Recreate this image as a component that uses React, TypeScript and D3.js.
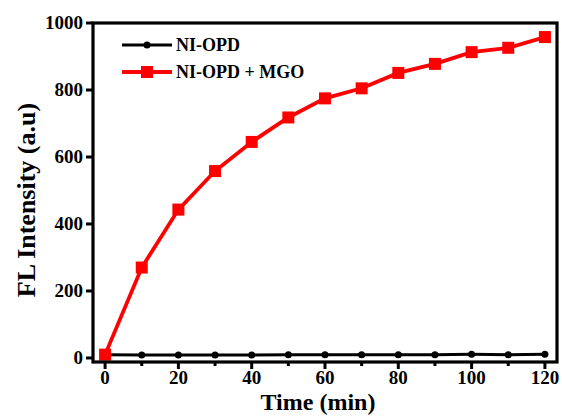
import React from "react";
import * as d3 from "d3";

const times = [0, 10, 20, 30, 40, 50, 60, 70, 80, 90, 100, 110, 120];
const niOpd = [10, 9, 9, 9, 9, 10, 10, 10, 10, 10, 11, 10, 11];
const niOpdMgo = [10, 270, 443, 558, 645, 718, 775, 805, 851, 878, 913, 926, 958];
const xMajorTicks = [0, 20, 40, 60, 80, 100, 120];
const xMinorTicks = [10, 30, 50, 70, 90, 110];
const yTicks = [0, 200, 400, 600, 800, 1000];

const W = 562, H = 416;
const L = 93, R = 557, T = 23, B = 362;
const FONT = "'Liberation Serif', 'Times New Roman', serif";

export default function App() {
  const x = d3.scaleLinear().domain([-3.3, 123.3]).range([L, R]);
  const y = d3.scaleLinear().domain([-12, 1000]).range([B, T]);
  const line = d3.line<[number, number]>().x(d => x(d[0])).y(d => y(d[1]));
  const blackPts: [number, number][] = times.map((t, i) => [t, niOpd[i]]);
  const redPts: [number, number][] = times.map((t, i) => [t, niOpdMgo[i]]);
  const sq = 12;

  return (
    <svg width={W} height={H} style={{ position: "absolute", left: 0, top: 0 }}>
      <rect width={W} height={H} fill="#fff" />
      <path d={line(blackPts) || ""} fill="none" stroke="#000" strokeWidth={3} />
      {blackPts.map((p, i) => (
        <circle key={"b" + i} cx={x(p[0])} cy={y(p[1])} r={3.5} fill="#000" />
      ))}
      <path d={line(redPts) || ""} fill="none" stroke="#ff0000" strokeWidth={3.8} />
      {redPts.map((p, i) => (
        <rect key={"r" + i} x={x(p[0]) - sq / 2} y={y(p[1]) - sq / 2} width={sq} height={sq} fill="#ff0000" />
      ))}
      <rect x={L} y={T} width={R - L} height={B - T} fill="none" stroke="#000" strokeWidth={3.2} />
      {xMajorTicks.map(t => (
        <g key={"xt" + t}>
          <line x1={x(t)} x2={x(t)} y1={B} y2={B + 7} stroke="#000" strokeWidth={3} />
          <text x={x(t)} y={384} textAnchor="middle" fontFamily={FONT} fontWeight="bold" fontSize={19}>{t}</text>
        </g>
      ))}
      {xMinorTicks.map(t => (
        <line key={"xm" + t} x1={x(t)} x2={x(t)} y1={B} y2={B + 4} stroke="#000" strokeWidth={3} />
      ))}
      {yTicks.map(t => (
        <g key={"yt" + t}>
          <line x1={L - 7} x2={L} y1={y(t)} y2={y(t)} stroke="#000" strokeWidth={3} />
          <text x={L - 10} y={y(t) + 6} textAnchor="end" fontFamily={FONT} fontWeight="bold" fontSize={19}>{t}</text>
        </g>
      ))}
      <text x={318} y={410} textAnchor="middle" fontFamily={FONT} fontWeight="bold" fontSize={24}>Time (min)</text>
      <text transform="translate(35,200) rotate(-90)" textAnchor="middle" fontFamily={FONT} fontWeight="bold" fontSize={26}>FL Intensity (a.u)</text>
      <line x1={122} x2={172} y1={45} y2={45} stroke="#000" strokeWidth={3} />
      <circle cx={147} cy={45} r={3.5} fill="#000" />
      <text x={176} y={51} fontFamily={FONT} fontWeight="bold" fontSize={18}>NI-OPD</text>
      <line x1={122} x2={172} y1={72} y2={72} stroke="#ff0000" strokeWidth={3.8} />
      <rect x={147 - sq / 2} y={72 - sq / 2} width={sq} height={sq} fill="#ff0000" />
      <text x={176} y={78} fontFamily={FONT} fontWeight="bold" fontSize={18}>NI-OPD + MGO</text>
    </svg>
  );
}
